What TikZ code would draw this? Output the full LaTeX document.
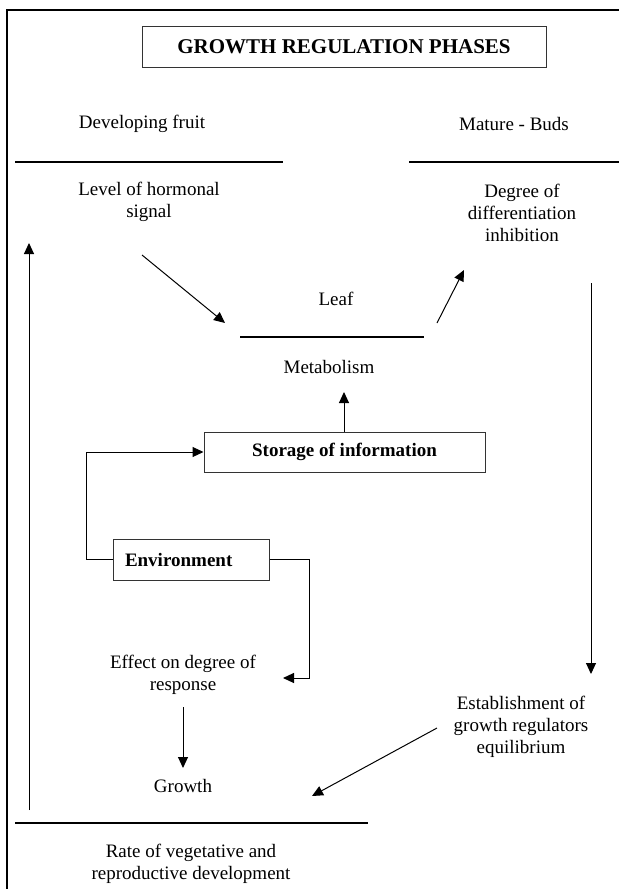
\documentclass[tikz,border=0pt]{standalone}
\usepackage{fontspec}
\setmainfont{Liberation Serif}
\usetikzlibrary{arrows.meta}
\begin{document}
\begin{tikzpicture}[x=1pt,y=-1pt,
  txt/.style={font=\fontsize{19}{22}\selectfont, align=center, inner sep=0pt},
  bx/.style={draw=black!80, line width=1pt, font=\fontsize{19}{22}\selectfont\bfseries, inner sep=0pt},
  arr/.style={line width=1pt, -{Triangle[length=11pt,width=10pt]}},
  ln/.style={line width=2pt},
  frame/.style={line width=2.5pt}]
\useasboundingbox (0,0) rectangle (619,889);
% outer frame (open on right and bottom)
\draw[frame] (7,889) -- (7,10) -- (619,10);
% title
\node[draw=black!80, line width=1pt, minimum width=404pt, minimum height=41pt, inner sep=0pt,
      font=\fontsize{21}{24}\selectfont\bfseries] (title) at (344,46.5) {GROWTH REGULATION PHASES};
% text nodes
\node[txt] (dev) at (142,124) {Developing fruit};
\node[txt] (mat) at (514,124) {Mature - Buds};
\node[txt] (horm) at (149,202) {Level of hormonal\\signal};
\node[txt] (deg) at (522,213) {Degree of\\differentiation\\inhibition};
\node[txt] (leaf) at (336,299) {Leaf};
\node[txt] (metab) at (329,367) {Metabolism};
\node[bx, minimum width=281pt, minimum height=40pt] (stor) at (344.5,452) {Storage of information};
\node[bx, minimum width=156pt, minimum height=41pt, text width=132pt, align=left, inner xsep=12pt] (env) at (191,559.5) {Environment};
\node[txt] (eff) at (183,675) {Effect on degree of\\response};
\node[txt] (grow) at (183,786) {Growth};
\node[txt] (est) at (521,727) {Establishment of\\growth regulators\\equilibrium};
\node[txt] (rate) at (191,864) {Rate of vegetative and\\reproductive development};
% divider lines
\coordinate (l1a) at (15,162); \coordinate (l1b) at (283,162);
\coordinate (l2a) at (409,162); \coordinate (l2b) at (619,162);
\coordinate (l3a) at (240,337); \coordinate (l3b) at (424,337);
\coordinate (l4a) at (15,823); \coordinate (l4b) at (368,823);
\draw[ln] (l1a) -- (l1b);
\draw[ln] (l2a) -- (l2b);
\draw[ln] (l3a) -- (l3b);
\draw[ln] (l4a) -- (l4b);
% arrow end points
\coordinate (upS) at (29,810); \coordinate (upE) at (29,243);
\coordinate (d1S) at (142,255); \coordinate (d1E) at (225,323);
\coordinate (d2S) at (437,323); \coordinate (d2E) at (464,270);
\coordinate (rS) at (591,283); \coordinate (rE) at (591,674);
\coordinate (d3S) at (437,728); \coordinate (d3E) at (312,796);
\coordinate (mE) at (344,392);
\coordinate (effE) at (283,678);
\coordinate (gS) at (183,707); \coordinate (gE) at (183,768);
% arrows
\draw[arr] (upS) -- (upE);
\draw[arr] (d1S) -- (d1E);
\draw[arr] (d2S) -- (d2E);
\draw[arr] (rS) -- (rE);
\draw[arr] (d3S) -- (d3E);
\draw[arr] (stor.north -| mE) -- (mE);
\draw[arr] (env.west) -- (86,559.5) |- (stor.west);
\draw[arr] (env.east) -- (309,559.5) |- (effE);
\draw[arr] (gS) -- (gE);
\end{tikzpicture}
\end{document}
